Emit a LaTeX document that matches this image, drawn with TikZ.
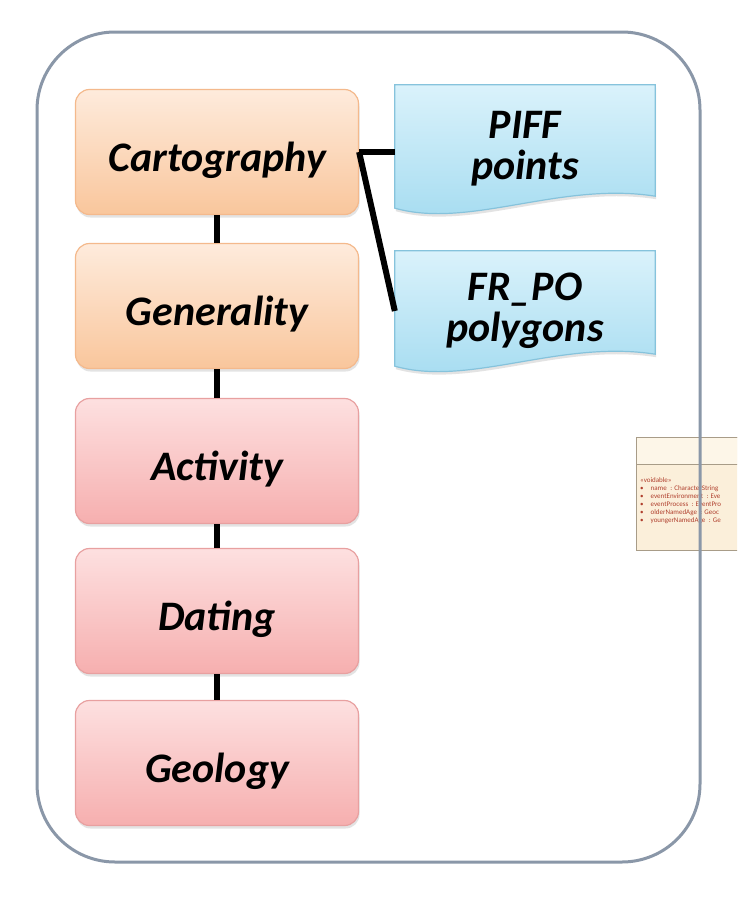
\documentclass[tikz,border=0pt]{standalone}
\usepackage{fontspec}
\setmainfont{Carlito}
\usetikzlibrary{shadows,calc}
\pgfdeclarelayer{background}
\pgfdeclarelayer{canvas}
\pgfsetlayers{canvas,background,main}
\definecolor{orTop}{HTML}{FEEBDC}
\definecolor{orBot}{HTML}{F9C69C}
\definecolor{orLine}{HTML}{F4B98C}
\definecolor{pkTop}{HTML}{FDE0E0}
\definecolor{pkBot}{HTML}{F6AFAF}
\definecolor{pkLine}{HTML}{E8A0A0}
\definecolor{blTop}{HTML}{DAF2FB}
\definecolor{blBot}{HTML}{A3DBF0}
\definecolor{blLine}{HTML}{86C3DC}
\definecolor{frameC}{HTML}{8A97A8}
\definecolor{umlHead}{HTML}{FDF6E8}
\definecolor{umlBody}{HTML}{FBEFDA}
\definecolor{umlLine}{HTML}{A89C88}
\definecolor{umlText}{HTML}{B0402E}
\tikzset{
  labelfont/.style={font=\fontsize{42}{46}\selectfont\bfseries\itshape},
  stepbox/.style={labelfont, rounded corners=14pt, minimum width=283pt, minimum height=125pt,
    text height=39pt, text depth=0pt,
    line width=1.2pt, drop shadow={opacity=0.22, shadow xshift=1pt, shadow yshift=-3pt}},
  orbox/.style={stepbox, draw=orLine, top color=orTop, bottom color=orBot},
  pkbox/.style={stepbox, draw=pkLine, top color=pkTop, bottom color=pkBot},
  doctext/.style={labelfont, align=center, minimum width=260pt, inner sep=0pt},
  docshape/.style={draw=blLine, line width=1.2pt, top color=blTop, bottom color=blBot,
    drop shadow={opacity=0.22, shadow xshift=1pt, shadow yshift=-3pt}},
  link/.style={line width=6pt, black},
  frame/.style={draw=frameC, line width=3pt, rounded corners=78pt}
}
\begin{document}
\begin{tikzpicture}[x=1pt,y=-1pt]
\begin{pgfonlayer}{canvas}
\fill[white] (0,0) rectangle (737,897);
\end{pgfonlayer}
\useasboundingbox (0,0) rectangle (737,897);

% UML fragment (clipped at the right edge)
\begin{scope}
\clip (0,0) rectangle (737,897);
\draw[umlLine, fill=umlBody, line width=0.8pt] (636,437) rectangle (770,550);
\draw[umlLine, fill=umlHead, line width=0.8pt] (636,437) rectangle (770,464);
\node[anchor=north west, align=left, inner sep=0pt, text=umlText,
      font=\fontsize{7}{8}\selectfont] (uml) at (640,477)
  {«voidable»\\
   •\enspace\enspace name\enspace: CharacterString\\
   •\enspace\enspace eventEnvironment\enspace: Eve\\
   •\enspace\enspace eventProcess\enspace: EventPro\\
   •\enspace\enspace olderNamedAge\enspace: Geoc\\
   •\enspace\enspace youngerNamedAge\enspace: Ge};
\end{scope}

% outer frame
\draw[frame] (37,32) rectangle (700,862);

% main column
\node[orbox] (cart) at (217,152) {Cartography};
\node[orbox] (gen)  at (217,306) {Generality};
\node[pkbox] (act)  at (217,461) {Activity};
\node[pkbox] (dat)  at (217,611) {Dating};
\node[pkbox] (geo)  at (217,763) {Geology};

% document nodes
\node[doctext, minimum height=128pt] (piff) at (525,149) {PIFF\\[-5pt]points};
\node[doctext, minimum height=120pt] (frpo) at (525,311) {FR\_PO\\[-5pt]polygons};
\begin{pgfonlayer}{background}
\path[docshape] (piff.north west) -- (piff.north east) -- ($(piff.south east)+(0,-17)$)
  .. controls ($(piff.south)+(35,-32)$) and ($(piff.south)+(-55,16)$) .. ($(piff.south west)+(0,-5)$) -- cycle;
\path[docshape] (frpo.north west) -- (frpo.north east) -- ($(frpo.south east)+(0,-17)$)
  .. controls ($(frpo.south)+(35,-32)$) and ($(frpo.south)+(-55,16)$) .. ($(frpo.south west)+(0,-5)$) -- cycle;
\end{pgfonlayer}

% connectors
\draw[link] (cart.south) -- (gen.north);
\draw[link] (gen.south) -- (act.north);
\draw[link] (act.south) -- (dat.north);
\draw[link] (dat.south) -- (geo.north);
\draw[link] (cart.east) -- (cart.east -| piff.west);
\draw[link] (cart.east) -- (frpo.west);
\end{tikzpicture}
\end{document}
